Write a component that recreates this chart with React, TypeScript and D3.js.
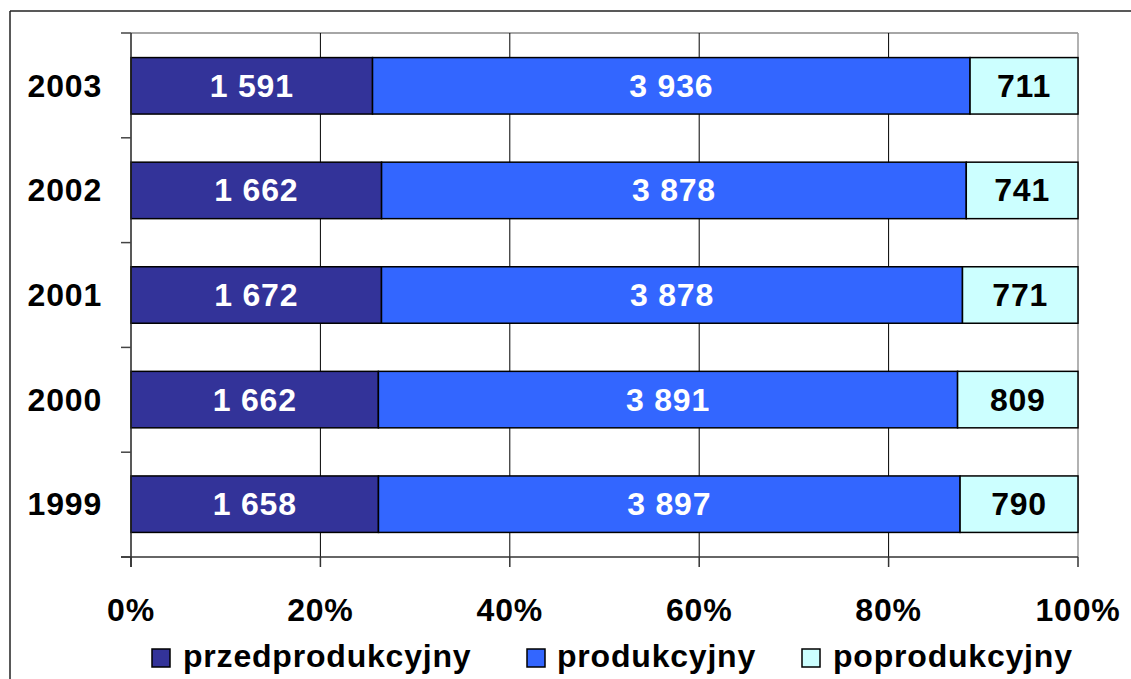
import React from "react";
import * as d3 from "d3";

const years = ["2003", "2002", "2001", "2000", "1999"];
const przedprodukcyjny = [1591, 1662, 1672, 1662, 1658];
const produkcyjny = [3936, 3878, 3878, 3891, 3897];
const poprodukcyjny = [711, 741, 771, 809, 790];
const seriesNames = ["przedprodukcyjny", "produkcyjny", "poprodukcyjny"];
const seriesColors = ["#333399", "#3366FF", "#CCFFFF"];
const labelColors = ["#FFFFFF", "#FFFFFF", "#000000"];
const xTicks = [0, 0.2, 0.4, 0.6, 0.8, 1];

const W = 1131;
const H = 679;
const plot = { left: 131, right: 1078, top: 33, bottom: 557 };
const FONT = "'Liberation Sans', Arial, sans-serif";
const LS = 0.8;

function fmt(v: number) {
  const s = String(v);
  return s.length > 3 ? s.slice(0, s.length - 3) + " " + s.slice(-3) : s;
}

export default function App() {
  const x = d3.scaleLinear().domain([0, 1]).range([plot.left, plot.right]);
  const y = d3.scaleBand().domain(years).range([plot.top, plot.bottom]).paddingInner(0.46).paddingOuter(0.235);
  const band = d3.scaleBand().domain(years).range([plot.top, plot.bottom]);

  const rows = years.map((yr, i) => ({
    year: yr,
    przedprodukcyjny: przedprodukcyjny[i],
    produkcyjny: produkcyjny[i],
    poprodukcyjny: poprodukcyjny[i],
  }));
  const stack = d3.stack<any>().keys(seriesNames).offset(d3.stackOffsetExpand);
  const stacked = stack(rows);

  const boundaries = years.map((yr) => band(yr) as number).concat([plot.bottom]);

  const legendItems = [
    { sq: 152, tx: 183 },
    { sq: 527, tx: 557 },
    { sq: 802, tx: 833 },
  ];

  return (
    <svg width={W} height={H} style={{ position: "absolute", left: 0, top: 0, background: "#fff" }} fontFamily={FONT}>
      {/* outer border */}
      <line x1={10} y1={11} x2={W} y2={11} stroke="#222" strokeWidth={1.5} />
      <line x1={10} y1={11} x2={10} y2={H} stroke="#222" strokeWidth={1.5} />

      {/* plot frame */}
      <line x1={plot.left} y1={plot.top} x2={plot.right} y2={plot.top} stroke="#888" strokeWidth={1.5} />
      <line x1={plot.right} y1={plot.top} x2={plot.right} y2={plot.bottom} stroke="#999" strokeWidth={1.5} />

      {/* gridlines */}
      {xTicks.slice(1, -1).map((t) => (
        <line key={t} x1={x(t)} x2={x(t)} y1={plot.top} y2={plot.bottom} stroke="#000" strokeWidth={1} />
      ))}

      {/* bars */}
      {stacked.map((s, si) =>
        s.map((d, i) => {
          const yr = years[i];
          const x0 = x(d[0]);
          const x1 = x(d[1]);
          const yy = y(yr) as number;
          const h = y.bandwidth();
          const val = (rows[i] as any)[seriesNames[si]];
          return (
            <g key={si + "-" + i}>
              <rect x={x0} y={yy} width={x1 - x0} height={h} fill={seriesColors[si]} stroke="#000" strokeWidth={1.5} />
              <text
                x={(x0 + x1) / 2}
                y={yy + h / 2}
                textAnchor="middle"
                dominantBaseline="central"
                fill={labelColors[si]}
                fontWeight="bold"
                fontSize={32}
                letterSpacing={LS}
              >
                {fmt(val)}
              </text>
            </g>
          );
        })
      )}

      {/* y axis */}
      <line x1={plot.left} y1={plot.top} x2={plot.left} y2={plot.bottom + 10} stroke="#222" strokeWidth={1.5} />
      {boundaries.map((b, i) => (
        <line key={i} x1={plot.left - 10} x2={plot.left} y1={b} y2={b} stroke="#444" strokeWidth={1.5} />
      ))}
      {years.map((yr) => (
        <text
          key={yr}
          x={102}
          y={(y(yr) as number) + y.bandwidth() / 2}
          textAnchor="end"
          dominantBaseline="central"
          fontWeight="bold"
          fontSize={32}
          letterSpacing={LS}
          fill="#000"
        >
          {yr}
        </text>
      ))}

      {/* x axis */}
      <line x1={plot.left - 10} y1={plot.bottom} x2={plot.right} y2={plot.bottom} stroke="#333" strokeWidth={1.5} />
      {xTicks.map((t) => (
        <g key={t}>
          <line x1={x(t)} x2={x(t)} y1={plot.bottom} y2={plot.bottom + 10} stroke="#333" strokeWidth={1.5} />
          <text x={x(t)} y={621} textAnchor="middle" fontWeight="bold" fontSize={32} letterSpacing={LS} fill="#000">
            {d3.format(".0%")(t)}
          </text>
        </g>
      ))}

      {/* legend */}
      {seriesNames.map((n, i) => (
        <g key={n}>
          <rect x={legendItems[i].sq} y={649} width={18} height={18} fill={seriesColors[i]} stroke="#000" strokeWidth={1.5} />
          <text x={legendItems[i].tx} y={667} fontWeight="bold" fontSize={32} letterSpacing={LS} fill="#000">
            {n}
          </text>
        </g>
      ))}
    </svg>
  );
}
